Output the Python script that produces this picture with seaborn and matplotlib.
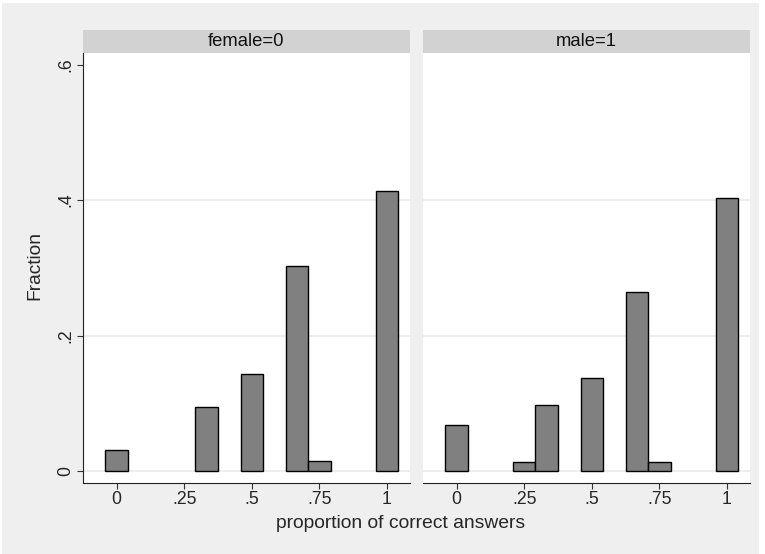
import numpy as np
import pandas as pd
import matplotlib
matplotlib.use("Agg")
import matplotlib.pyplot as plt
import seaborn as sns
from matplotlib.patches import Rectangle

# values (fraction of respondents per bin)
panel_titles = ["female=0", "male=1"]
female_props = [0, 1 / 3, 1 / 2, 2 / 3, 3 / 4, 1]
female_frac = [0.031, 0.095, 0.143, 0.302, 0.015, 0.413]
male_props = [0, 1 / 4, 1 / 3, 1 / 2, 2 / 3, 3 / 4, 1]
male_frac = [0.068, 0.013, 0.097, 0.138, 0.264, 0.013, 0.403]

x_ticks = [0, 0.25, 0.5, 0.75, 1]
x_ticklabels = ["0", ".25", ".5", ".75", "1"]
y_ticks = [0, 0.2, 0.4, 0.6]
y_ticklabels = ["0", ".2", ".4", ".6"]

df = pd.concat([
    pd.DataFrame({"group": panel_titles[0], "proportion": female_props, "fraction": female_frac}),
    pd.DataFrame({"group": panel_titles[1], "proportion": male_props, "fraction": male_frac}),
])

sns.set_theme(style="white")
plt.rcParams["font.family"] = ["Liberation Sans", "DejaVu Sans"]

bg = "#efefef"
W, H = 765, 554
fig = plt.figure(figsize=(7.65, 5.54), dpi=100, facecolor="white")
# graph region (thin white margin on top/left/right, as in the export)
fig.patches.append(Rectangle((2 / W, -0.02), 757 / W, 1.02 - 3 / H, transform=fig.transFigure,
                             facecolor=bg, edgecolor="none", zorder=-10))

boxes = [(83, 410), (423, 750)]
top_px, bot_px = 53, 483
strip_h = 23

for i, (title, (x0, x1)) in enumerate(zip(panel_titles, boxes)):
    ax = fig.add_axes([x0 / W, 1 - bot_px / H, (x1 - x0) / W, (bot_px - top_px) / H])
    ax.set_facecolor("white")
    sub = df[df["group"] == title]
    # bins of width 1/12 centred on multiples of 1/12
    sns.histplot(data=sub, x="proportion", weights="fraction", binwidth=1 / 12,
                 binrange=(-1 / 24, 1 + 1 / 24), ax=ax,
                 color="#808080", edgecolor="black", linewidth=1, alpha=1)
    # empty bins are not drawn in the reference
    for p in ax.patches:
        if p.get_height() <= 0:
            p.set_visible(False)
    ax.set_xlim(-0.124, 1.085)
    ax.set_ylim(-0.0177, 0.617)
    for yv in y_ticks[:-1]:
        ax.axhline(yv, color="#eaeaea", lw=1.2, zorder=0)
    ax.set_xticks(x_ticks)
    ax.set_xticklabels(x_ticklabels, fontsize=12.7)
    ax.tick_params(axis="x", length=4, width=0.8, color="#333333", pad=2, bottom=True)
    ax.set_xlabel("")
    ax.set_ylabel("")
    for s in ["top", "right"]:
        ax.spines[s].set_visible(False)
    ax.spines["bottom"].set_color("#222222")
    ax.spines["bottom"].set_linewidth(0.8)
    if i == 0:
        ax.set_yticks(y_ticks)
        ax.set_yticklabels(y_ticklabels, fontsize=12.7, rotation=90, va="center")
        ax.tick_params(axis="y", length=4, width=0.8, color="#333333", pad=2, left=True)
        ax.spines["left"].set_color("#222222")
        ax.spines["left"].set_linewidth(0.8)
    else:
        ax.set_yticks([])
        ax.spines["left"].set_visible(False)
    # strip header
    sh = strip_h / (bot_px - top_px)
    ax.add_patch(Rectangle((0, 1), 1, sh, transform=ax.transAxes, facecolor="#d2d2d2",
                           edgecolor="none", clip_on=False))
    ax.text(0.5, 1 + sh / 2, title, transform=ax.transAxes, ha="center", va="center",
            fontsize=13.3, color="#111111")

fig.text(35 / W, 1 - 266 / H, "Fraction", rotation=90, ha="center", va="center", fontsize=13.8)
fig.text(401 / W, 1 - 523 / H, "proportion of correct answers", ha="center", va="center",
         fontsize=13.9)

fig.savefig("out.png", dpi=100, facecolor="white")
